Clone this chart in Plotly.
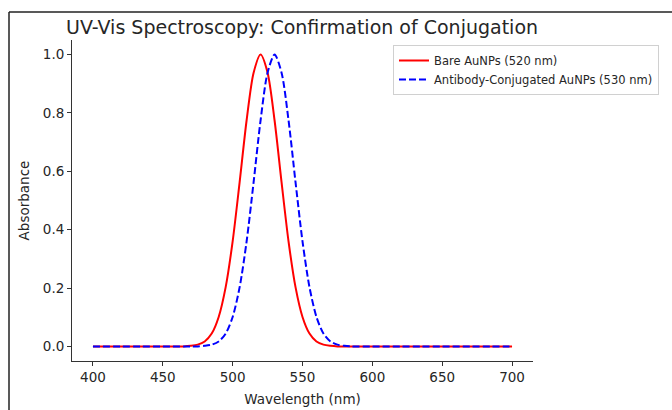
import plotly.graph_objects as go

# Wavelength grid (nm)
wavelength = [400, 405, 410, 415, 420, 425, 430, 435, 440, 445,
              450, 455, 460, 465, 470, 475, 480, 485, 490, 495,
              500, 505, 510, 515, 520, 525, 530, 535, 540, 545,
              550, 555, 560, 565, 570, 575, 580, 585, 590, 595,
              600, 605, 610, 615, 620, 625, 630, 635, 640, 645,
              650, 655, 660, 665, 670, 675, 680, 685, 690, 695, 700]

# Absorbance of bare gold nanoparticles (peak ~520 nm)
bare_abs = ([0.0] * 14 +
            [0.002, 0.006, 0.017, 0.044, 0.101, 0.203, 0.360, 0.563, 0.775, 0.938,
             1.000,
             0.938, 0.775, 0.563, 0.360, 0.203, 0.101, 0.044, 0.017, 0.006, 0.002] +
            [0.0] * 26)

# Absorbance after antibody conjugation (peak ~530 nm)
conj_abs = ([0.0] * 16 +
            [0.002, 0.006, 0.017, 0.044, 0.101, 0.203, 0.360, 0.563, 0.775, 0.938,
             1.000,
             0.938, 0.775, 0.563, 0.360, 0.203, 0.101, 0.044, 0.017, 0.006, 0.002] +
            [0.0] * 24)

series_names = ["Bare AuNPs (520 nm)", "Antibody-Conjugated AuNPs (530 nm)"]
x_ticks = [400, 450, 500, 550, 600, 650, 700]
y_ticks = [0.0, 0.2, 0.4, 0.6, 0.8, 1.0]

FONT = "DejaVu Sans"
TXT = "#262626"

fig = go.Figure()
fig.add_trace(go.Scatter(
    x=wavelength, y=bare_abs, mode="lines", name=series_names[0],
    line=dict(color="#ff0000", width=2, shape="spline", smoothing=0.8),
))
fig.add_trace(go.Scatter(
    x=wavelength, y=conj_abs, mode="lines", name=series_names[1],
    line=dict(color="#0000ff", width=2, dash="7px,3px", shape="spline", smoothing=0.8),
))

# plot area: x 72..533 px, y 40..361 px
L, R, T, B = 72, 139, 40, 49
PW, PH = 672 - L - R, 410 - T - B


def px(xp):
    return (xp - L) / PW


def py(yp):
    return (410 - B - yp) / PH


fig.update_layout(
    width=672, height=410,
    margin=dict(l=L, r=R, t=T, b=B, pad=0, autoexpand=False),
    paper_bgcolor="white", plot_bgcolor="white",
    font=dict(family=FONT, color=TXT, size=13.5),
    showlegend=True,
    legend=dict(
        x=px(393), y=py(45), xanchor="left", yanchor="top",
        bgcolor="white", bordercolor="#d0d0d0", borderwidth=1,
        font=dict(family=FONT, size=11.5, color=TXT),
        tracegroupgap=0, itemwidth=30,
    ),
    xaxis=dict(
        range=[385, 715], tickvals=x_ticks, ticktext=[str(v) for v in x_ticks],
        showgrid=False, zeroline=False, showline=True, linecolor="#333333", linewidth=1,
        ticks="outside", ticklen=4, tickwidth=1, tickcolor="#333333",
        automargin=False,
        title=dict(text="Wavelength (nm)", font=dict(size=13.5), standoff=10),
    ),
    yaxis=dict(
        range=[-0.05, 1.05], tickvals=y_ticks, ticktext=[f"{v:.1f}" for v in y_ticks],
        showgrid=False, zeroline=False, showline=True, linecolor="#333333", linewidth=1,
        ticks="outside", ticklen=4, tickwidth=1, tickcolor="#333333",
        automargin=False,
        title=dict(text="Absorbance", font=dict(size=13.5), standoff=10),
    ),
    annotations=[dict(
        text="UV-Vis Spectroscopy: Confirmation of Conjugation",
        xref="paper", yref="paper", x=px(302), y=py(27),
        xanchor="center", yanchor="middle", showarrow=False,
        font=dict(family=FONT, size=19, color=TXT),
    )],
    shapes=[
        dict(type="line", xref="paper", yref="paper",
             x0=px(9), y0=py(12), x1=px(672), y1=py(12),
             line=dict(color="#222222", width=1.5)),
        dict(type="line", xref="paper", yref="paper",
             x0=px(9), y0=py(12), x1=px(9), y1=py(410),
             line=dict(color="#222222", width=1.5)),
    ],
)

fig.write_html("out.html")
